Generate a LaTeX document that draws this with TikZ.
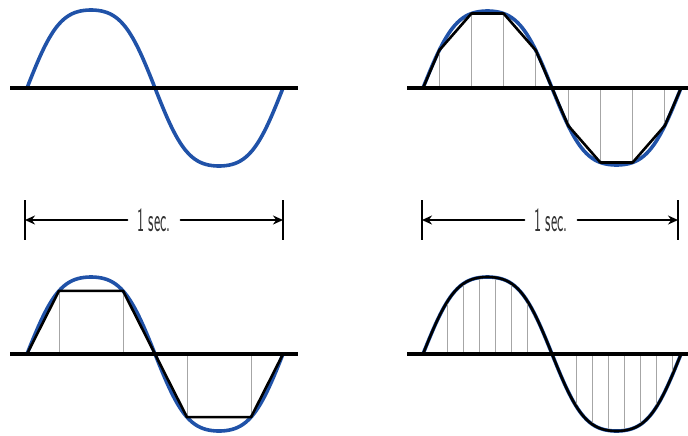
\documentclass[tikz,border=0pt]{standalone}
\usepackage{fontspec}
\usetikzlibrary{arrows.meta}
\definecolor{waveblue}{RGB}{32,82,168}
\begin{document}
\begin{tikzpicture}[x=0.5pt,y=-0.5pt,line cap=round,line join=round,
  declare function={wave(\t)=1.08*sin(\t)+0.08*sin(3*\t);},
  axisline/.style={line width=2pt,line cap=butt},
  sinewave/.style={line width=1.8pt,waveblue},
  stepline/.style={line width=1.3pt},
  sampleline/.style={line width=0.5pt,black!35,line cap=butt},
  dimbar/.style={line width=1pt,line cap=butt},
  dimarrow/.style={line width=1pt,-{Stealth[length=5pt,width=4.5pt]}},
  timelabel/.style={font=\fontsize{17}{17}\selectfont\sffamily,text=black!80,xscale=0.44,inner xsep=11pt,inner ysep=0pt}]
  \useasboundingbox (0,0) rectangle (688,435);
  % top left: the analog signal
  \draw[sinewave] plot[domain=0:360,samples=91,smooth] ({27+\x/360*256},{88-78*wave(\x)});
  \draw[axisline] (10,88) -- (298,88);
  % top right: 8 samples
  \draw[sinewave] plot[domain=0:360,samples=91,smooth] ({423+\x/360*258},{88-77*wave(\x)});
  \foreach \t in {22.5,67.5,112.5,157.5,202.5,247.5,292.5,337.5}
    \draw[sampleline] ({423+\t/360*258},88) -- ({423+\t/360*258},{88-77*wave(\t)});
  \draw[axisline] (407,88) -- (688,88);
  \draw[stepline] plot[samples at={0,22.5,67.5,112.5,157.5,180,202.5,247.5,292.5,337.5,360}]
    ({423+\x/360*258},{88-77*wave(\x)});
  % one second
  \node[timelabel] (secL) at (154,220) {1 sec.};
  \coordinate (barLL) at (25,220);
  \coordinate (barLR) at (283,220);
  \draw[dimbar] (25,200) -- (25,240);
  \draw[dimbar] (283,200) -- (283,240);
  \draw[dimarrow] (secL) -- (barLL);
  \draw[dimarrow] (secL) -- (barLR);
  \node[timelabel] (secR) at (551,220) {1 sec.};
  \coordinate (barRL) at (422,220);
  \coordinate (barRR) at (678,220);
  \draw[dimbar] (422,200) -- (422,240);
  \draw[dimbar] (678,200) -- (678,240);
  \draw[dimarrow] (secR) -- (barRL);
  \draw[dimarrow] (secR) -- (barRR);
  % bottom left: 4 samples
  \draw[sinewave] plot[domain=0:360,samples=91,smooth] ({27+\x/360*256},{354-77*wave(\x)});
  \foreach \t in {45,135,225,315}
    \draw[sampleline] ({27+\t/360*256},354) -- ({27+\t/360*256},{354-77*wave(\t)});
  \draw[axisline] (10,354) -- (298,354);
  \draw[stepline] plot[samples at={0,45,135,180,225,315,360}] ({27+\x/360*256},{354-77*wave(\x)});
  % bottom right: 16 samples
  \draw[sinewave] plot[domain=0:360,samples=91,smooth] ({423+\x/360*258},{354-77*wave(\x)});
  \foreach \k in {1,...,6,9,10,...,15}
    \draw[sampleline] ({423+(\k+0.5)*258/16},354) -- ({423+(\k+0.5)*258/16},{354-76*wave(22.5*(\k+0.5))});
  \draw[axisline] (407,354) -- (688,354);
  \draw[stepline] plot[domain=0:360,samples=91,smooth] ({423+\x/360*258},{354-77*wave(\x)});
\end{tikzpicture}
\end{document}
